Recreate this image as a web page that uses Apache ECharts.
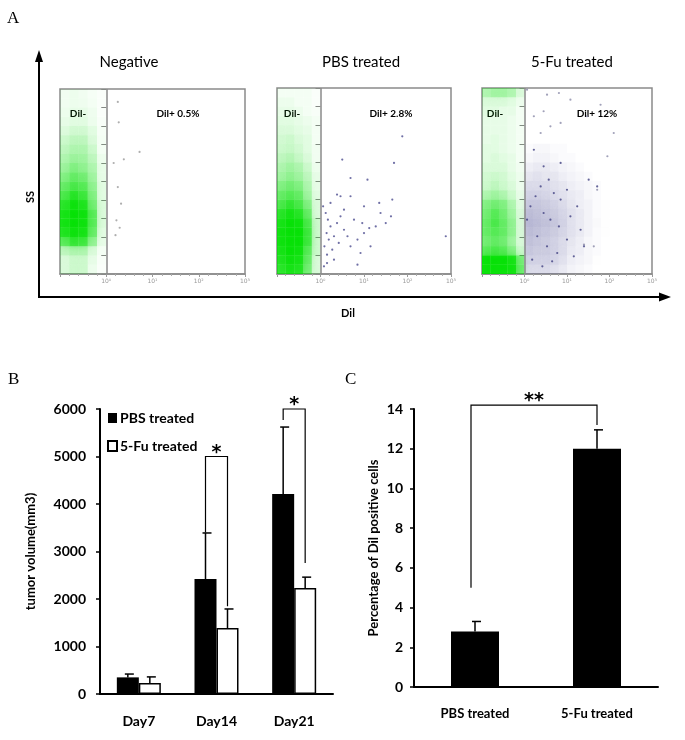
<!DOCTYPE html>
<html><head><meta charset="utf-8">
<script src="https://cdn.jsdelivr.net/npm/echarts@6/dist/echarts.min.js"></script>
<style>html,body{margin:0;padding:0;background:#fff}#c{width:685px;height:740px}</style>
</head><body><div id="c"></div>
<script>
// ---------- Panel A: flow cytometry ----------
const flowTitles = ['Negative', 'PBS treated', '5-Fu treated'];
const dilNegLabel = 'Dil-';
const dilPosLabels = ['Dil+ 0.5%', 'Dil+ 2.8%', 'Dil+ 12%'];
const flowTickLabels = ['10\u2070', '10\u00b9', '10\u00b2', '10\u00b3'];
const gateLog = 0;
// green density (rows from top y=10 down to y=0, step 0.5; columns log -1..0 step 0.2)
const greenNeg = [
[0.06,0.08,0.06,0.04,0.02],[0.06,0.08,0.07,0.05,0.02],[0.08,0.10,0.10,0.07,0.02],
[0.10,0.12,0.12,0.08,0.03],[0.14,0.18,0.18,0.12,0.04],[0.20,0.25,0.25,0.15,0.05],
[0.25,0.30,0.30,0.20,0.05],[0.30,0.36,0.35,0.25,0.08],[0.36,0.45,0.40,0.30,0.10],
[0.45,0.55,0.50,0.35,0.10],[0.55,0.65,0.60,0.40,0.12],[0.65,0.80,0.70,0.45,0.12],
[0.80,0.95,0.85,0.50,0.15],[0.90,1.00,0.95,0.60,0.15],[0.92,1.00,0.95,0.60,0.15],
[0.85,0.95,0.90,0.55,0.12],[0.60,0.75,0.70,0.40,0.10],[0.25,0.30,0.30,0.15,0.05],
[0.15,0.20,0.20,0.10,0.03],[0.15,0.20,0.20,0.08,0.02]
];
const greenPbs = [
[0.05,0.05,0.05,0.05,0.02],[0.08,0.08,0.05,0.05,0.02],[0.10,0.10,0.08,0.05,0.03],
[0.12,0.12,0.10,0.08,0.05],[0.15,0.15,0.12,0.10,0.05],[0.18,0.20,0.15,0.12,0.05],
[0.20,0.22,0.18,0.12,0.06],[0.25,0.28,0.22,0.15,0.06],[0.30,0.35,0.30,0.20,0.08],
[0.35,0.40,0.35,0.25,0.10],[0.45,0.50,0.45,0.30,0.10],[0.55,0.60,0.55,0.35,0.12],
[0.65,0.75,0.65,0.45,0.15],[0.80,0.90,0.80,0.55,0.15],[0.90,1.00,0.95,0.65,0.20],
[0.95,1.00,1.00,0.70,0.20],[0.95,1.00,1.00,0.70,0.20],[0.90,1.00,0.95,0.60,0.20],
[0.85,0.95,0.90,0.55,0.15],[0.80,0.90,0.85,0.50,0.15]
];
const greenFu = [
[0.30,0.35,0.35,0.30,0.15],[0.15,0.15,0.15,0.12,0.08],[0.12,0.12,0.10,0.10,0.05],
[0.10,0.10,0.10,0.08,0.05],[0.10,0.10,0.10,0.08,0.05],[0.10,0.12,0.10,0.08,0.05],
[0.12,0.12,0.10,0.08,0.05],[0.12,0.15,0.12,0.10,0.05],[0.15,0.15,0.15,0.10,0.06],
[0.18,0.20,0.18,0.12,0.08],[0.20,0.25,0.20,0.15,0.08],[0.30,0.35,0.30,0.20,0.10],
[0.45,0.50,0.45,0.30,0.12],[0.50,0.60,0.50,0.35,0.15],[0.55,0.65,0.55,0.40,0.15],
[0.55,0.60,0.55,0.40,0.15],[0.50,0.55,0.50,0.35,0.15],[0.60,0.65,0.60,0.45,0.20],
[1.00,1.00,1.00,0.90,0.50],[1.00,1.00,1.00,0.95,0.55]
];
// blue density for 5-Fu Dil+ (rows from y=7 down to 0, step 0.5; columns log 0..2 step 0.2)
const blueFu = [
[0.05,0.10,0.10,0.05,0.05,0,0,0,0,0],
[0.10,0.15,0.15,0.10,0.05,0.05,0,0,0,0],
[0.20,0.25,0.25,0.20,0.15,0.10,0.05,0,0,0],
[0.30,0.35,0.30,0.30,0.20,0.15,0.10,0.05,0,0],
[0.40,0.40,0.40,0.35,0.30,0.20,0.15,0.10,0.05,0],
[0.50,0.50,0.45,0.40,0.35,0.25,0.20,0.10,0.05,0],
[0.60,0.60,0.55,0.50,0.40,0.30,0.20,0.15,0.05,0.02],
[0.70,0.65,0.60,0.55,0.45,0.35,0.25,0.15,0.05,0.02],
[0.75,0.70,0.65,0.60,0.50,0.35,0.25,0.15,0.08,0.02],
[0.70,0.65,0.60,0.55,0.45,0.35,0.25,0.15,0.05,0.02],
[0.65,0.60,0.55,0.50,0.40,0.30,0.20,0.10,0.05,0],
[0.60,0.55,0.55,0.50,0.40,0.25,0.20,0.10,0.05,0],
[0.50,0.50,0.50,0.45,0.35,0.20,0.15,0.10,0.02,0],
[0.40,0.40,0.40,0.35,0.25,0.15,0.10,0.05,0,0]
];
const greyNegDots = [[0.25,9.3],[0.27,8.2],[0.72,6.6],[0.16,6.0],[0.38,6.2],[0.25,4.7],[0.32,3.8],[0.22,2.9],[0.29,2.5],[0.20,2.1]];
const bluePbsDots = [[0.06,3.64],[0.12,3.28],[0.17,2.92],[0.23,2.56],[0.14,2.2],[0.19,1.85],[0.09,1.49],[0.27,1.31],[0.15,1.04],[0.31,2.03],
[0.38,2.74],[0.46,3.1],[0.54,2.38],[0.62,2.03],[0.42,1.67],[0.69,1.49],[0.77,2.92],[0.85,1.85],[0.96,2.74],[1.0,2.2],
[1.12,2.47],[0.38,4.27],[0.46,4.18],[0.69,4.18],[0.23,3.82],[0.54,3.46],[0.92,1.13],[1.15,1.49],[1.27,2.56],[1.38,3.28],
[1.5,2.74],[1.62,3.1],[1.65,4.0],[1.69,5.97],[1.35,3.82],[1.08,5.07],[0.5,6.15],[0.08,0.41],[0.85,0.5],[1.88,7.4],
[2.88,2.03],[0.69,5.16],[0.31,0.77],[0.15,0.59],[1.0,3.64]];
const greyFuDots = [[0.06,9.91],[0.53,9.64],[0.81,9.73],[1.08,9.37],[1.79,9.1],[0.45,8.75],[0.22,8.48],[0.61,7.94],[0.38,7.58],[0.85,8.12],
[1.47,8.48],[2.1,7.58],[1.95,6.33],[1.71,4.53],[1.63,1.49],[1.4,1.58]];
const blueFuDots = [[0.06,2.92],[0.14,3.64],[0.26,4.18],[0.38,4.71],[0.57,5.07],[0.69,4.35],[0.85,4.0],[1.0,4.53],[0.45,3.28],[0.61,2.92],
[0.81,2.56],[1.08,3.1],[1.24,3.64],[1.4,1.49],[0.3,2.03],[0.53,1.49],[0.77,1.13],[1.0,1.85],[0.18,0.77],[0.42,0.41],
[0.65,0.68],[1.16,0.95],[1.32,2.38],[1.51,5.07],[1.71,4.71],[0.85,5.97],[0.45,5.79],[0.22,6.68]];

// ---------- Panel B: tumor volume ----------
const days = ['Day7', 'Day14', 'Day21'];
const pbsVol = [350, 2420, 4210];
const pbsVolErr = [70, 970, 1410];
const fuVol = [230, 1390, 2230];
const fuVolErr = [130, 400, 230];
const volTicks = [0, 1000, 2000, 3000, 4000, 5000, 6000];
// brackets: [leftCat, rightCat, top, leftEnd, rightEnd]
const bracketsB = [[1, 1, 5000, 3400, 1850], [2, 2, 6000, 5770, 2760]];
const bracketMarksB = ['*', '*'];

// ---------- Panel C: % Dil positive ----------
const groupsC = ['PBS treated', '5-Fu treated'];
const pctDil = [2.8, 12.0];
const pctDilErr = [0.5, 0.95];
const bracketsC = [[0, 1, 14.2, 5.0, 13.2]];
const bracketMarksC = ['**'];

const FONT = 'Lato';
const chart = echarts.init(document.getElementById('c'), null, {renderer: 'canvas'});

function densityData(rows, x0, dx, yTop, dy) {
  const out = [];
  rows.forEach((row, r) => row.forEach((v, c) => {
    if (v > 0) out.push([x0 + c * dx, yTop - (r + 1) * dy, v, dx, dy]);
  }));
  return out;
}
function densitySeries(idx, data, rgb, alphaScale, blur) {
  return {
    type: 'custom', xAxisIndex: idx, yAxisIndex: idx, silent: true, clip: true,
    data: data,
    renderItem: function (params, api) {
      const x = api.value(0), y = api.value(1), v = api.value(2) * alphaScale, dx = api.value(3), dy = api.value(4);
      const p1 = api.coord([x, y + dy]);
      const p2 = api.coord([x + dx, y]);
      const col = 'rgba(' + rgb + ',' + v.toFixed(3) + ')';
      return {type: 'rect', shape: {x: p1[0], y: p1[1], width: p2[0] - p1[0], height: p2[1] - p1[1]},
        style: {fill: col, shadowBlur: blur, shadowColor: col}};
    }
  };
}
function dotSeries(idx, data, color, withGate) {
  const s = {type: 'scatter', xAxisIndex: idx, yAxisIndex: idx, silent: true, data: data, z: 3,
    symbolSize: 2.2, itemStyle: {color: color, opacity: 0.8}};
  if (withGate) {
    s.markLine = {silent: true, symbol: 'none', label: {show: false},
      lineStyle: {color: '#8a8a8a', width: 1.5, type: 'solid'}, data: [{xAxis: gateLog}]};
  }
  return s;
}
function errorSeries(xi, yi, vals, errs, offset) {
  return {
    type: 'custom', xAxisIndex: xi, yAxisIndex: yi, silent: true, z: 1,
    data: vals.map((v, i) => [i, v, errs[i]]),
    renderItem: function (params, api) {
      const b = api.coord([api.value(0), api.value(1)]);
      const t = api.coord([api.value(0), api.value(1) + api.value(2)]);
      const x = b[0] + offset;
      return {type: 'group', children: [
        {type: 'line', shape: {x1: x, y1: b[1], x2: x, y2: t[1]}, style: {stroke: '#000', lineWidth: 1.5}},
        {type: 'line', shape: {x1: x - 3, y1: t[1], x2: x + 6, y2: t[1]}, style: {stroke: '#000', lineWidth: 1.5}}
      ]};
    }
  };
}
function bracketSeries(xi, yi, data, marks, offL, offR) {
  return {
    type: 'custom', xAxisIndex: xi, yAxisIndex: yi, silent: true, clip: false, z: 5,
    data: data,
    renderItem: function (params, api) {
      const pl = api.coord([api.value(0), api.value(2)]);
      const pr = api.coord([api.value(1), api.value(2)]);
      const xl = pl[0] + offL, xr = pr[0] + offR, yt = pl[1];
      const yl = api.coord([api.value(0), api.value(3)])[1];
      const yr = api.coord([api.value(1), api.value(4)])[1];
      return {type: 'group', children: [
        {type: 'polyline', shape: {points: [[xl, yl], [xl, yt], [xr, yt], [xr, yr]]},
          style: {stroke: '#000', lineWidth: 1.2, fill: 'none'}},
        {type: 'text', style: {text: marks[params.dataIndex], x: (xl + xr) / 2, y: yt + 6,
          align: 'center', verticalAlign: 'bottom', fontFamily: 'DejaVu Sans', fontWeight: 'bold', fontSize: 19, fill: '#000'}}
      ]};
    }
  };
}

const flowGrids = [
  {left: 60, top: 89, width: 185, height: 185},
  {left: 277, top: 88, width: 174, height: 186},
  {left: 482, top: 88, width: 170, height: 186}
];
const grids = flowGrids.map(g => Object.assign({show: true, borderColor: '#8a8a8a', borderWidth: 1.5, backgroundColor: 'transparent'}, g));
grids.push({left: 100, top: 409, width: 233, height: 285});
grids.push({left: 414, top: 409, width: 244, height: 278});

const xAxes = [], yAxes = [];
for (let i = 0; i < 3; i++) {
  xAxes.push({type: 'value', gridIndex: i, min: -1, max: 3, interval: 1,
    axisLine: {show: true, lineStyle: {color: '#8a8a8a', width: 1.5}},
    axisTick: {show: true, length: 3, lineStyle: {color: '#999'}},
    minorTick: {show: true, splitNumber: 5, length: 2, lineStyle: {color: '#aaa'}},
    splitLine: {show: false},
    axisLabel: {fontSize: 6, color: '#999', fontFamily: 'DejaVu Sans', margin: 4,
      formatter: v => (v >= 0 ? flowTickLabels[v] : '')}});
  yAxes.push({type: 'value', gridIndex: i, min: 0, max: 10, interval: 1,
    axisLine: {show: false}, axisTick: {show: true, length: 5, lineStyle: {color: '#888'}},
    axisLabel: {show: false}, splitLine: {show: false}});
}
xAxes.push({type: 'category', gridIndex: 3, data: days,
  axisLine: {lineStyle: {color: '#000', width: 2}}, axisTick: {show: false},
  axisLabel: {fontFamily: FONT, fontWeight: 'bold', fontSize: 14, color: '#000', margin: 20}});
yAxes.push({type: 'value', gridIndex: 3, min: volTicks[0], max: volTicks[volTicks.length - 1], interval: 1000,
  axisLine: {show: true, lineStyle: {color: '#000', width: 2}},
  axisTick: {show: true, length: 4, lineStyle: {color: '#000', width: 1.5}},
  axisLabel: {fontFamily: FONT, fontWeight: 'bold', fontSize: 14, color: '#000', margin: 14, formatter: v => String(v)},
  splitLine: {show: false},
  name: 'tumor volume(mm3)', nameLocation: 'middle', nameGap: 63,
  nameTextStyle: {fontFamily: FONT, fontWeight: 'bold', fontSize: 13, color: '#000'}});
xAxes.push({type: 'category', gridIndex: 4, data: groupsC,
  axisLine: {lineStyle: {color: '#000', width: 2}}, axisTick: {show: false},
  axisLabel: {fontFamily: FONT, fontWeight: 'bold', fontSize: 13, color: '#000', margin: 20}});
yAxes.push({type: 'value', gridIndex: 4, min: 0, max: 14, interval: 2,
  axisLine: {show: true, lineStyle: {color: '#000', width: 2}},
  axisTick: {show: true, length: 4, lineStyle: {color: '#000', width: 1.5}},
  axisLabel: {fontFamily: FONT, fontWeight: 'bold', fontSize: 14, color: '#000', margin: 11},
  splitLine: {show: false},
  name: 'Percentage of Dil positive cells', nameLocation: 'middle', nameGap: 34,
  nameTextStyle: {fontFamily: FONT, fontWeight: 'bold', fontSize: 13, color: '#000'}});

const series = [
  densitySeries(0, densityData(greenNeg, -1, 0.2, 10, 0.5), '0,225,0', 0.9, 6),
  dotSeries(0, greyNegDots, '#9a9a9a', true),
  densitySeries(1, densityData(greenPbs, -1, 0.2, 10, 0.5), '0,225,0', 0.9, 6),
  dotSeries(1, bluePbsDots, '#4b4b8e', true),
  densitySeries(2, densityData(greenFu, -1, 0.2, 10, 0.5), '0,225,0', 0.9, 6),
  densitySeries(2, densityData(blueFu, 0, 0.2, 7, 0.5), '80,80,150', 0.45, 6),
  dotSeries(2, greyFuDots, '#8a8aa8', true),
  dotSeries(2, blueFuDots, '#3e3e80', false),
  {name: 'PBS treated', type: 'bar', xAxisIndex: 3, yAxisIndex: 3, data: pbsVol, barWidth: 22, barGap: '0%',
    itemStyle: {color: '#000'}},
  {name: '5-Fu treated', type: 'bar', xAxisIndex: 3, yAxisIndex: 3, data: fuVol, barWidth: 22, barGap: '0%',
    itemStyle: {color: '#fff', borderColor: '#000', borderWidth: 1.5}},
  errorSeries(3, 3, pbsVol, pbsVolErr, -11),
  errorSeries(3, 3, fuVol, fuVolErr, 11),
  bracketSeries(3, 3, bracketsB, bracketMarksB, -11, 11),
  {name: 'Percentage', type: 'bar', xAxisIndex: 4, yAxisIndex: 4, data: pctDil, barWidth: 48,
    itemStyle: {color: '#000'}},
  errorSeries(4, 4, pctDil, pctDilErr, 0),
  bracketSeries(4, 4, bracketsC, bracketMarksC, -4, 0)
];

const txt = (x, y, text, opts) => ({type: 'text', x: x, y: y, silent: true,
  style: Object.assign({text: text, fill: '#000', fontFamily: FONT, fontSize: 15, align: 'center', verticalAlign: 'middle'}, opts || {})});
const titleX = [129, 361, 572];
const dilNegX = [78, 292, 495];
const dilPosX = [178, 391, 597];
const graphics = [
  txt(7, 10, 'A', {fontFamily: 'Liberation Serif', fontSize: 17, align: 'left', verticalAlign: 'top'}),
  txt(8, 371, 'B', {fontFamily: 'Liberation Serif', fontSize: 17, align: 'left', verticalAlign: 'top'}),
  txt(345, 371, 'C', {fontFamily: 'Liberation Serif', fontSize: 17, align: 'left', verticalAlign: 'top'}),
  {type: 'line', silent: true, shape: {x1: 39, y1: 297, x2: 39, y2: 60}, style: {stroke: '#000', lineWidth: 2}},
  {type: 'polygon', silent: true, shape: {points: [[35, 62], [43, 62], [39, 50]]}, style: {fill: '#000'}},
  {type: 'line', silent: true, shape: {x1: 38, y1: 297, x2: 661, y2: 297}, style: {stroke: '#000', lineWidth: 2}},
  {type: 'polygon', silent: true, shape: {points: [[659, 292.5], [659, 301.5], [671, 297]]}, style: {fill: '#000'}},
  {type: 'text', x: 30, y: 197, rotation: Math.PI / 2, silent: true,
    style: {text: 'SS', fontFamily: FONT, fontWeight: 'bold', fontSize: 11, fill: '#000', align: 'center', verticalAlign: 'middle'}},
  txt(348, 313, 'Dil', {fontWeight: 'bold', fontSize: 11})
];
for (let i = 0; i < 3; i++) {
  graphics.push(txt(titleX[i], 62, flowTitles[i]));
  graphics.push(txt(dilNegX[i], 114, dilNegLabel, {fontWeight: 'bold', fontSize: 10}));
  graphics.push(txt(dilPosX[i], 114, dilPosLabels[i], {fontWeight: 'bold', fontSize: 10}));
}

chart.setOption({
  animation: false,
  backgroundColor: '#fff',
  grid: grids,
  xAxis: xAxes,
  yAxis: yAxes,
  legend: {data: ['PBS treated', '5-Fu treated'], orient: 'vertical', left: 107, top: 411,
    itemWidth: 9, itemHeight: 10, itemGap: 14, padding: 0, icon: 'rect',
    textStyle: {fontFamily: FONT, fontWeight: 'bold', fontSize: 14, color: '#000', padding: [0, 0, 0, -2]}},
  series: series,
  graphic: graphics
});
</script></body></html>
